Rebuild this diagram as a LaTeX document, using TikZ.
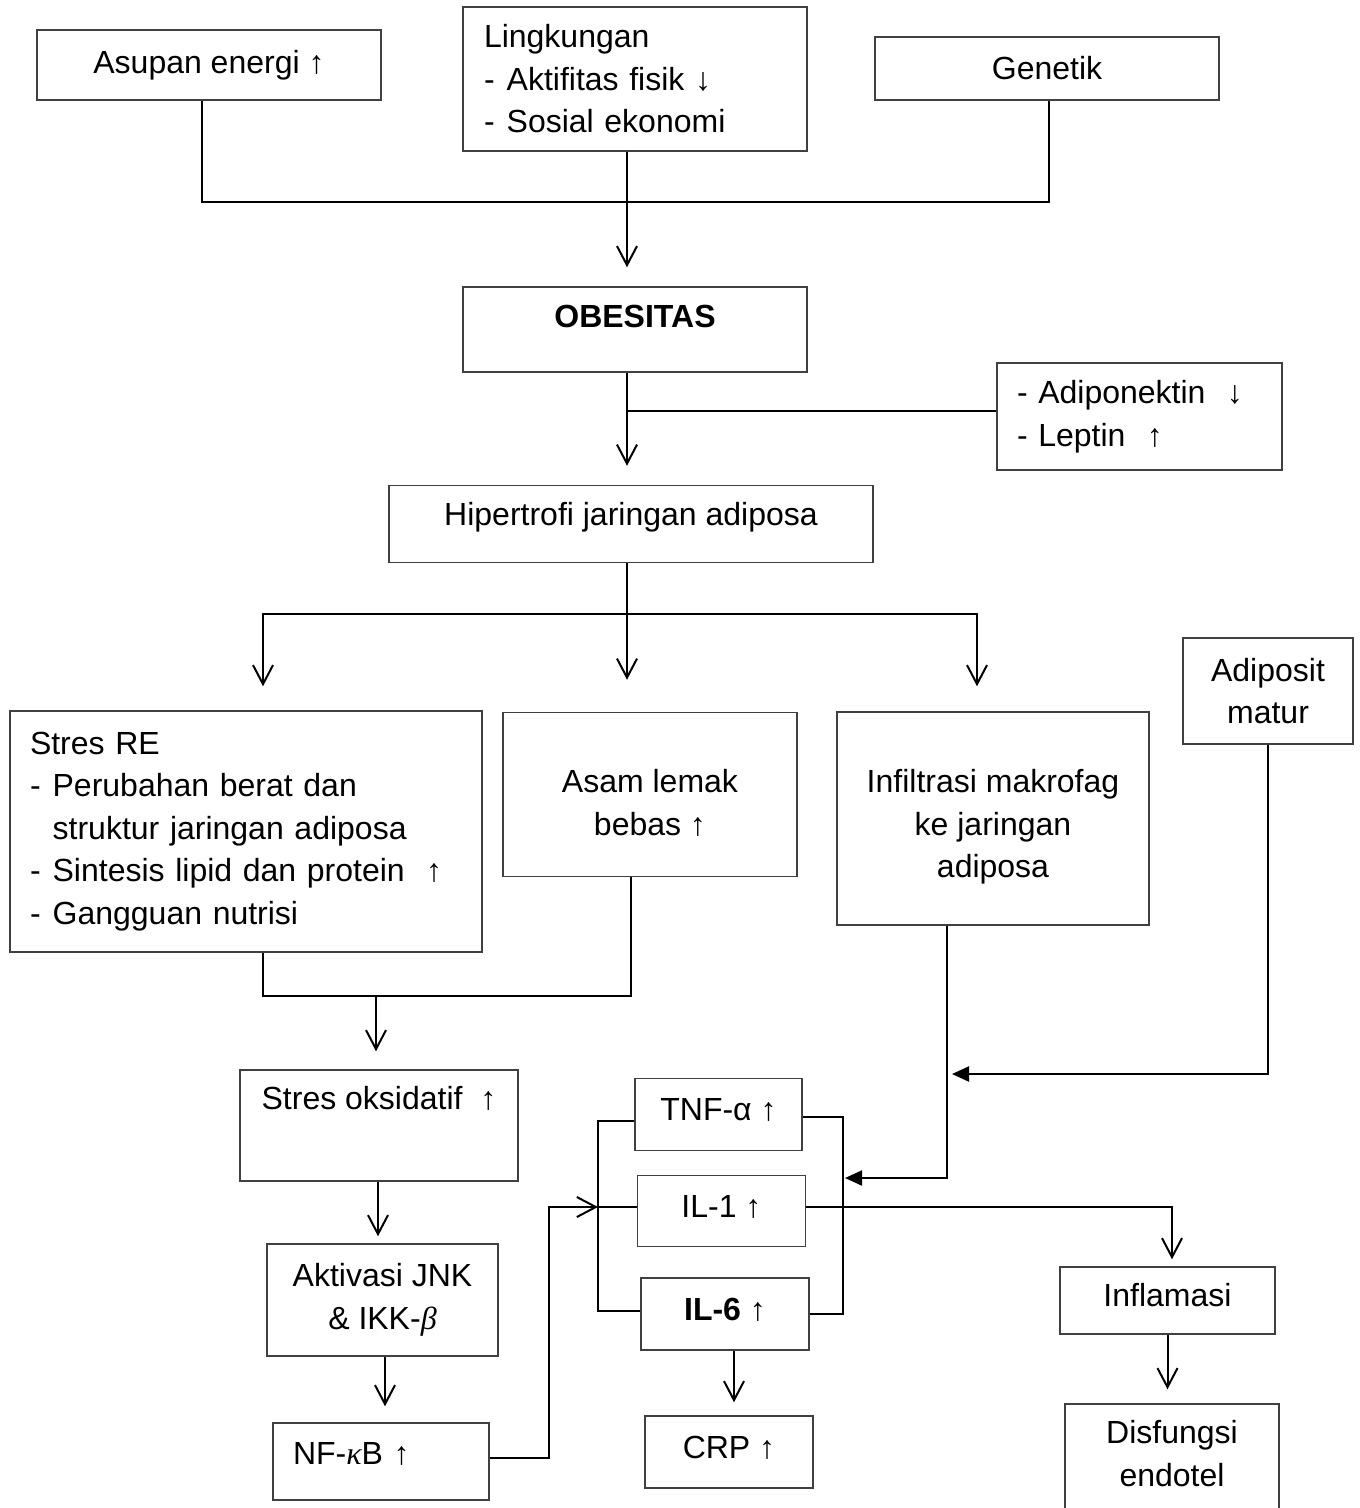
\documentclass[tikz,border=0pt]{standalone}
\usepackage{fontspec}
\setmainfont{Liberation Sans}
\newfontfamily\greekfont{Liberation Serif}
\usetikzlibrary{arrows.meta,calc,positioning}
\definecolor{boxgray}{HTML}{404040}
\newcommand{\itm}{-\hspace{12pt}}
\newcommand{\itmgap}{\phantom{-}\hspace{12pt}}
\newcommand{\lowerline}{\rule{0pt}{40pt}}
\newcommand{\grk}[1]{{\greekfont\itshape #1}}

\begin{document}
\begin{tikzpicture}[x=1pt,y=-1pt,
  box/.style={draw=boxgray,line width=1.5pt,inner sep=0pt,align=center,
    font=\fontsize{32}{42.5}\selectfont},
  conn/.style={line width=2pt},
  openarrow/.style={conn,-{Straight Barb[length=19pt,width=20pt]}},
  solidarrow/.style={conn,-{Triangle[length=17pt,width=15pt]}}]
  \useasboundingbox (0,0) rectangle (1360,1508);
  \clip (0,0) rectangle (1360,1508);

  % Causes
  \node[box,minimum width=344pt,minimum height=70pt] (asupan) at (209,65) {Asupan energi ↑};
  \node[box,align=left,text width=302pt,inner xsep=21pt,minimum height=144pt] (lingk) at (635,79)
    {Lingkungan\\ \itm Aktifitas fisik ↓\\ \itm Sosial ekonomi};
  \node[box,minimum width=344pt,minimum height=63pt] (genetik) at (1047,68.5) {Genetik};

  % Obesity and adipose tissue
  \node[box,minimum width=344pt,minimum height=85pt,text depth=26pt] (obes) at (635,329.5) {\textbf{OBESITAS}};
  \node[box,align=left,text width=245pt,inner xsep=20pt,minimum height=107pt] (adipo) at (1139.5,416.5)
    {- Adiponektin~~↓\\ - Leptin~~↑};
  \node[box,minimum width=484pt,minimum height=77pt,text depth=20pt] (hiper) at (631,524) {Hipertrofi jaringan adiposa};

  % Three branches
  \node[box,align=left,text width=432pt,inner xsep=20pt,minimum height=241pt] (stresre) at (246,831.5)
    {Stres RE\\ \itm Perubahan berat dan\\ \itmgap struktur jaringan adiposa\\
     \itm Sintesis lipid dan protein ~↑\\ \itm Gangguan nutrisi};
  \node[box,minimum width=294pt,minimum height=164pt] (asam) at (650,794.5) {\lowerline Asam lemak\\ bebas ↑};
  \node[box,minimum width=312pt,minimum height=213pt] (infil) at (993,818.5)
    {\lowerline Infiltrasi makrofag\\ ke jaringan\\ adiposa};
  \node[box,minimum width=170pt,minimum height=106pt] (adiposit) at (1268,691) {Adiposit\\ matur};

  % Signalling chain
  \node[box,minimum width=278pt,minimum height=111pt] (stresoks) at (379,1125.5) {Stres oksidatif ~↑\\ \strut};
  \node[box,minimum width=231pt,minimum height=112pt] (aktiv) at (382.5,1300) {Aktivasi JNK\\ \& IKK-\grk{β}};
  \node[box,align=left,text width=176pt,inner xsep=20pt,minimum height=77pt,text depth=16pt] (nfkb) at (381,1461.5)
    {NF-\grk{κ}B ↑};

  % Cytokines
  \node[box,minimum width=167pt,minimum height=72pt,text depth=10pt] (tnf) at (718.5,1114.5) {TNF-α ↑};
  \node[box,minimum width=168pt,minimum height=71pt,text depth=10pt] (il1) at (721.5,1211) {IL-1 ↑};
  \node[box,minimum width=168pt,minimum height=72pt,text depth=10pt] (il6) at (725,1314) {\textbf{IL-6} ↑};
  \node[box,minimum width=168pt,minimum height=72pt,text depth=10pt] (crp) at (729,1452) {CRP ↑};
  \node[box,minimum width=215pt,minimum height=67pt,text depth=12pt] (inflam) at (1167.5,1300.5) {Inflamasi};
  \node[box,minimum width=214pt,minimum height=154pt] (disf) at (1172,1481) {Disfungsi\\ endotel\\ \strut};

  % Junctions
  \coordinate (topjoin) at (627,202);
  \coordinate (midjoin) at (627,614);
  \coordinate (lowjoin) at (376,996);
  \coordinate (nfturn) at (549,1207);
  \coordinate (cytojoin) at (598,1207);
  \coordinate (brkR) at (843,1207);
  \coordinate (infend) at (845,1178);
  \coordinate (adpend) at (952,1074);

  % Connectors
  \draw[conn] ([xshift=-7pt]asupan.south) |- (topjoin) -| ([xshift=2pt]genetik.south);
  \draw[openarrow,shorten >=19pt] ([xshift=-8pt]lingk.south) -- ([xshift=-8pt]lingk.south |- obes.north);
  \draw[openarrow,shorten >=19pt] ([xshift=-8pt]obes.south) -- ([xshift=-8pt]obes.south |- hiper.north);
  \draw[conn] ([yshift=5.5pt]adipo.west) -- ([yshift=5.5pt]adipo.west -| topjoin);
  \draw[openarrow,shorten >=32pt] ([xshift=-4pt]hiper.south) -- ([xshift=-4pt]hiper.south |- asam.north);
  \draw[openarrow,shorten >=24pt] (midjoin) -| ([xshift=17pt]stresre.north);
  \draw[openarrow,shorten >=25pt] (midjoin) -| ([xshift=-16pt]infil.north);
  \draw[conn] ([xshift=17pt]stresre.south) |- (lowjoin) -| ([xshift=-19pt]asam.south);
  \draw[openarrow,shorten >=18pt] (lowjoin) -- (lowjoin |- stresoks.north);
  \draw[openarrow,shorten >=7pt] ([xshift=-1pt]stresoks.south) -- ([xshift=-1pt]stresoks.south |- aktiv.north);
  \draw[openarrow,shorten >=16pt] ([xshift=2.5pt]aktiv.south) -- ([xshift=2.5pt]aktiv.south |- nfkb.north);
  \draw[openarrow] ([yshift=3.5pt]nfkb.east) -| (nfturn) -- (cytojoin);
  \draw[conn] ([yshift=-6pt]tnf.west) -| (cytojoin) |- ([yshift=3pt]il6.west);
  \draw[conn] (cytojoin) -- (cytojoin -| il1.west);
  \draw[conn] ([yshift=-2pt]tnf.east) -| (brkR) |- (il6.east);
  \draw[solidarrow] ([xshift=-46pt]infil.south) |- (infend);
  \draw[solidarrow] (adiposit.south) |- (adpend);
  \draw[openarrow,shorten >=7pt] ([yshift=4pt]il1.east) -| ([xshift=4.5pt]inflam.north);
  \draw[openarrow,shorten >=14pt] (inflam.south) -- (inflam.south |- disf.north);
  \draw[openarrow,shorten >=13pt] ([xshift=9pt]il6.south) -- ([xshift=9pt]il6.south |- crp.north);
\end{tikzpicture}
\end{document}
